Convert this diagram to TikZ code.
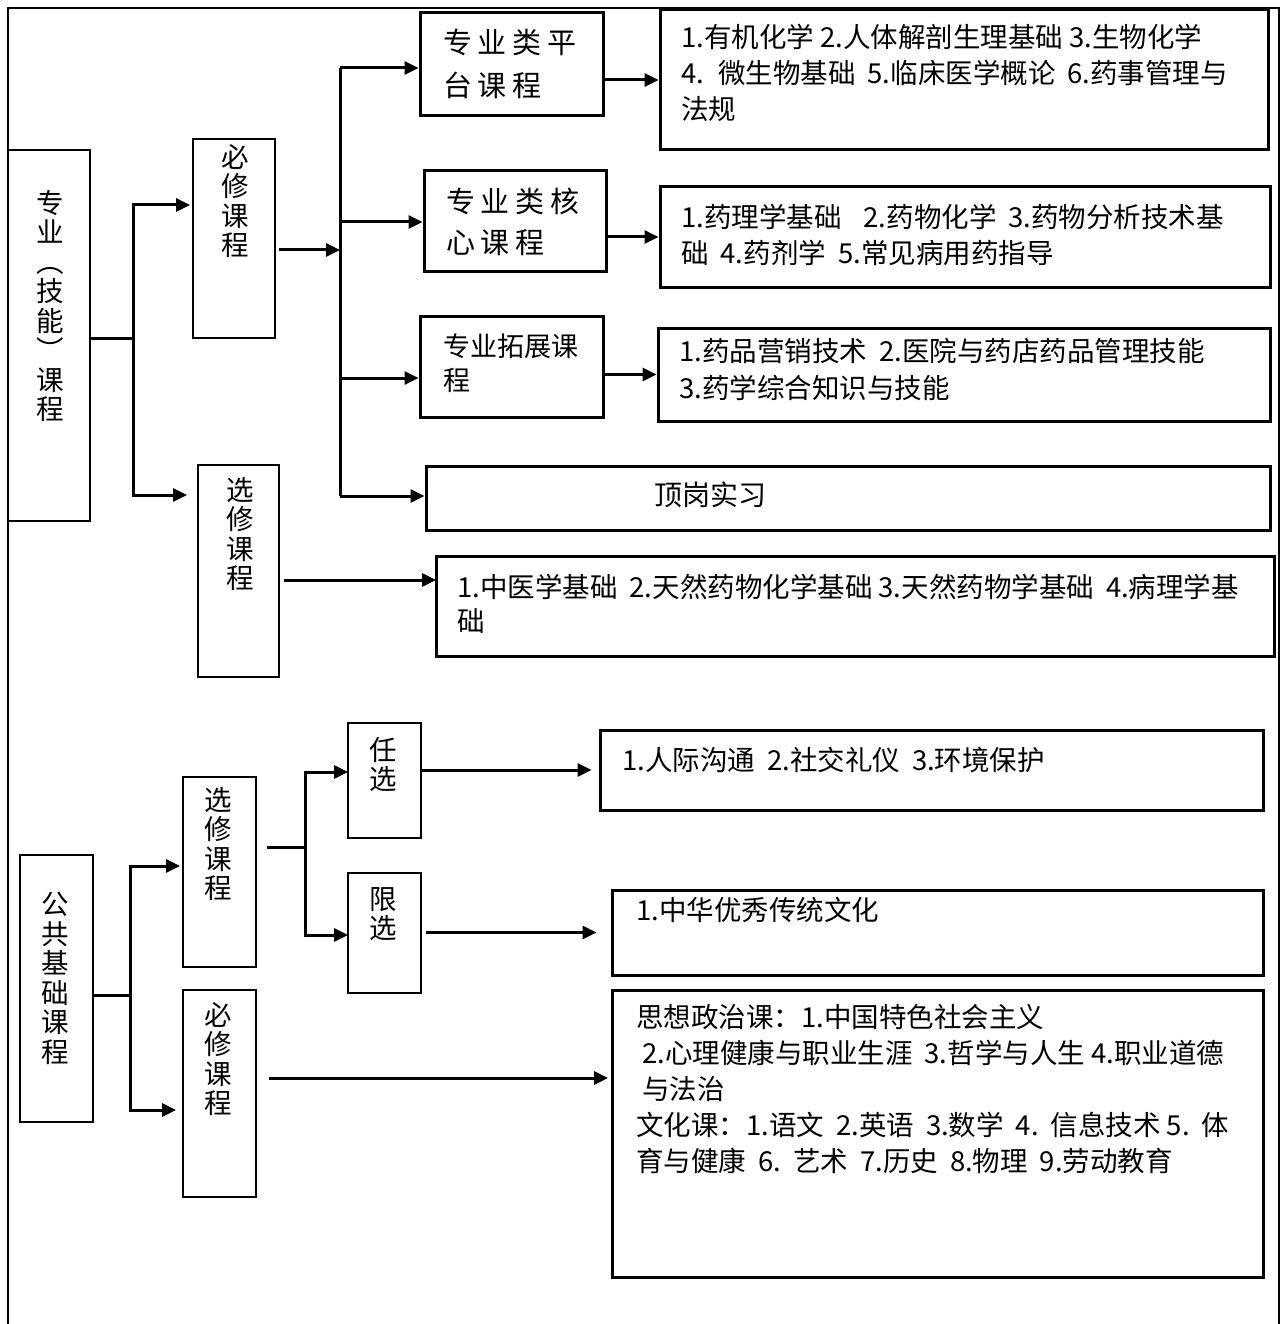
\documentclass[tikz,border=0pt]{standalone}
\usepackage{fontspec}
\setmainfont{Noto Sans CJK SC}
\newfontfamily\widecjk[LetterSpace=20]{Noto Sans CJK SC}
\usetikzlibrary{arrows.meta}

\begin{document}
\begin{tikzpicture}[x=1pt, y=-1pt,
	thinbox/.style={draw=black, line width=1.5pt, inner sep=0pt},
	thickbox/.style={draw=black, line width=3pt, inner sep=0pt},
	vtext/.style={align=center, inner sep=0pt, anchor=north, font=\fontsize{27.5}{29.5}\selectfont},
	listtext/.style={align=left, inner sep=0pt, anchor=north west, font=\fontsize{27.5}{36}\selectfont},
	link/.style={line width=3pt},
	arrow/.style={line width=3pt, -{Triangle[length=14pt,width=13pt]}}]
	\useasboundingbox (0,0) rectangle (1282,1324);
	
	% frame
	\draw[line width=1.5pt] (8,1324) -- (8,8) -- (1279,8) -- (1279,1324);
	
	% upper part
	\node[thinbox, minimum width=82pt, minimum height=371pt] (zyjn) at (49,335.5){};
	\node[vtext] (tzyjn) at (50,190){专\\业\\︵\\技\\能\\︶\\课\\程};
	
	\node[thinbox, minimum width=82pt, minimum height=199pt] (bixiu) at (234,238.5){};
	\node[vtext] (tbixiu) at (235,144){必\\修\\课\\程};
	\node[thinbox, minimum width=81pt, minimum height=212pt] (xuanxiu) at (238.5,571){};
	\node[vtext] (txuanxiu) at (240,477){选\\修\\课\\程};
	
	\node[thickbox, minimum width=183pt, minimum height=103pt] (pingtai) at (511.5,64.5){};
	\node[align=left, inner sep=0pt, anchor=north west, font=\widecjk\fontsize{29}{43}\selectfont] (tpingtai) at (443,29){专业类平\\台课程};
	\node[thickbox, minimum width=182pt, minimum height=100pt] (hexin) at (515,221){};
	\node[align=left, inner sep=0pt, anchor=north west, font=\widecjk\fontsize{29}{41}\selectfont] (thexin) at (446,188){专业类核\\心课程};
	\node[thickbox, minimum width=183pt, minimum height=101pt] (tuozhan) at (511.5,366.5){};
	\node[align=left, inner sep=0pt, anchor=north west, font=\fontsize{27}{34}\selectfont] (ttuozhan) at (443,334){专业拓展课\\程};
	\node[thickbox, minimum width=844pt, minimum height=64pt] (dinggang) at (848,498){};
	\node[inner sep=0pt, font=\fontsize{28}{30}\selectfont] (tdinggang) at (710,495){顶岗实习};
	
	\node[thickbox, minimum width=608pt, minimum height=140pt] (ptlist) at (964,80){};
	\node[listtext] (tptlist) at (681,24){1.有机化学 2.人体解剖生理基础 3.生物化学\\
		4.\hspace{14pt}微生物基础\hspace{12pt}5.临床医学概论\hspace{12pt}6.药事管理与\\法规};
	\node[thickbox, minimum width=610pt, minimum height=100pt] (hxlist) at (965,237){};
	\node[listtext] (thxlist) at (681,204){1.药理学基础\hspace{22pt}2.药物化学\hspace{12pt}3.药物分析技术基\\
		础\hspace{12pt}4.药剂学\hspace{12pt}5.常见病用药指导};
	\node[thickbox, minimum width=612pt, minimum height=93pt] (tzlist) at (964,374.5){};
	\node[listtext, font=\fontsize{27.5}{37}\selectfont] (ttzlist) at (679,338){1.药品营销技术\hspace{12pt}2.医院与药店药品管理技能\\3.药学综合知识与技能};
	\node[thickbox, minimum width=838pt, minimum height=100pt] (xxlist) at (855,606){};
	\node[listtext, font=\fontsize{27.5}{34}\selectfont] (txxlist) at (457,574){1.中医学基础\hspace{12pt}2.天然药物化学基础 3.天然药物学基础\hspace{12pt}4.病理学基\\础};
	
	\coordinate (jA) at (133,338);
	\coordinate (aB1) at (190,205);
	\coordinate (aB2) at (187,495);
	\draw[link] (zyjn.east |- jA) -- (jA);
	\draw[arrow] (jA) |- (aB1);
	\draw[arrow] (jA) |- (aB2);
	
	\coordinate (b1) at (340,68);
	\coordinate (b2) at (340,222);
	\coordinate (bm) at (340,250);
	\coordinate (b3) at (340,378);
	\coordinate (b4) at (340,496);
	\draw[arrow, shorten <=3pt] (bixiu.east |- bm) -- (bm);
	\draw[link] (b1) -- (b4);
	\draw[arrow] (b1) -- (pingtai.west |- b1);
	\draw[arrow] (b2) -- (hexin.west |- b2);
	\draw[arrow] (b3) -- (tuozhan.west |- b3);
	\draw[arrow] (b4) -- (dinggang.west |- b4);
	
	\draw[arrow] (pingtai.east |- ptlist.west) -- (ptlist.west);
	\draw[arrow] (hexin.east |- hxlist.west) -- (hxlist.west);
	\draw[arrow] (tuozhan.east |- tzlist.west) -- (tzlist.west);
	
	\coordinate (eE) at (436,580);
	\draw[arrow, shorten <=4pt] (xuanxiu.east |- eE) -- (eE);
	
	% lower part
	\node[thinbox, minimum width=73pt, minimum height=267pt] (ggjc) at (56.5,988.5){};
	\node[vtext] (tggjc) at (55,892){公\\共\\基\\础\\课\\程};
	
	\node[thinbox, minimum width=73pt, minimum height=190pt] (ggxx) at (219.5,872){};
	\node[vtext] (tggxx) at (218,787){选\\修\\课\\程};
	\node[thinbox, minimum width=73pt, minimum height=207pt] (ggbx) at (219.5,1093.5){};
	\node[vtext] (tggbx) at (218,1002){必\\修\\课\\程};
	
	\node[thinbox, minimum width=73pt, minimum height=115pt] (renxuan) at (384.5,780.5){};
	\node[vtext] (trenxuan) at (383,737){任\\选};
	\node[thinbox, minimum width=73pt, minimum height=120pt] (xianxuan) at (384.5,933){};
	\node[vtext] (txianxuan) at (383,887){限\\选};
	
	\node[thickbox, minimum width=663pt, minimum height=80pt] (rxlist) at (931.5,770){};
	\node[listtext] (trxlist) at (622,747){1.人际沟通\hspace{12pt}2.社交礼仪\hspace{12pt}3.环境保护};
	\node[thickbox, minimum width=651pt, minimum height=85pt] (xxlist2) at (937.5,932.5){};
	\node[listtext] (txxlist2) at (636,897){1.中华优秀传统文化};
	\node[thickbox, minimum width=651pt, minimum height=287pt] (bxlist) at (937.5,1133.5){};
	\node[listtext] (tbxlist) at (636,1004){思想政治课：1.中国特色社会主义\\
		\hspace{6pt}2.心理健康与职业生涯\hspace{12pt}3.哲学与人生 4.职业道德\\
		\hspace{6pt}与法治\\
		文化课：1.语文\hspace{12pt}2.英语\hspace{12pt}3.数学\hspace{12pt}4.\hspace{12pt}信息技术 5.\hspace{12pt}体\\
		育与健康\hspace{12pt}6.\hspace{12pt}艺术\hspace{12pt}7.历史\hspace{12pt}8.物理\hspace{12pt}9.劳动教育};
	
	\coordinate (jF) at (130,995);
	\coordinate (aG1) at (180,866);
	\coordinate (aG2) at (176,1110);
	\draw[link] (ggjc.east |- jF) -- (jF);
	\draw[arrow] (jF) |- (aG1);
	\draw[arrow] (jF) |- (aG2);
	
	\coordinate (jG) at (305,847);
	\coordinate (aH1) at (348,772);
	\coordinate (aH2) at (348,935);
	\draw[link, shorten <=10pt] (ggxx.east |- jG) -- (jG);
	\draw[arrow] (jG) |- (aH1);
	\draw[arrow] (jG) |- (aH2);
	
	\draw[arrow, shorten >=7pt] (renxuan.east |- rxlist.west) -- (rxlist.west);
	\draw[arrow, shorten <=4pt, shorten >=14pt] (xianxuan.east |- xxlist2.west) -- (xxlist2.west);
	\coordinate (aI3) at (612,1078);
	\draw[arrow, shorten <=12pt, shorten >=4pt] (ggbx.east |- aI3) -- (aI3);
\end{tikzpicture}
\end{document}
